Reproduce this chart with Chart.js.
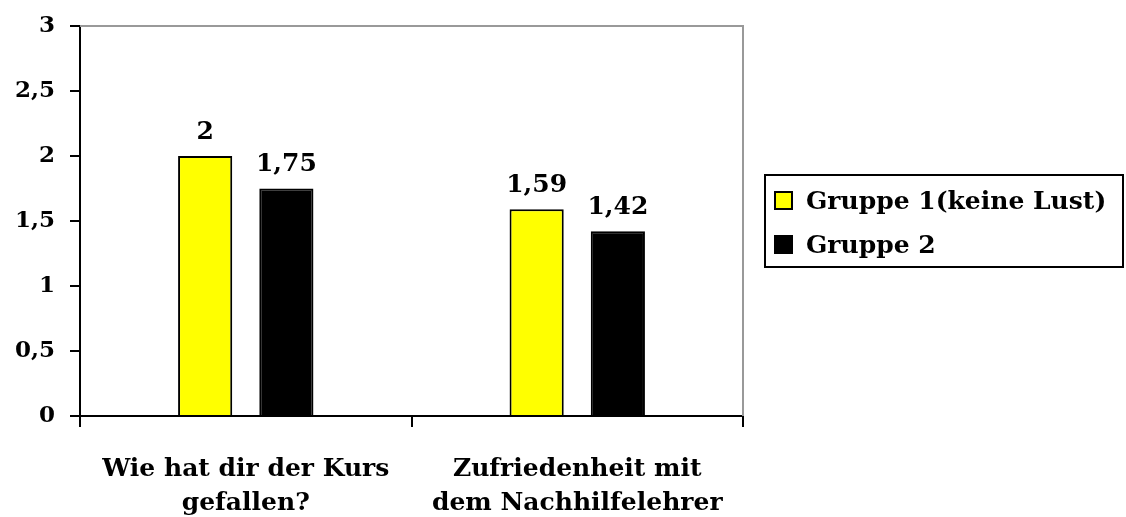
<!DOCTYPE html>
<html>
<head>
<meta charset="utf-8">
<script src="https://cdn.jsdelivr.net/npm/chart.js@4"></script>
<style>
  html, body { margin: 0; padding: 0; background: #fff; }
  #wrap { position: relative; width: 1126px; height: 517px; }
  #legend {
    position: absolute; left: 764px; top: 174px; width: 356px; height: 90px;
    border: 2px solid #000; font: bold 25px "DejaVu Serif", serif; color: #000;
    box-sizing: content-box; white-space: nowrap;
  }
  .item { display: flex; align-items: center; height: 44px; padding-left: 8px; }
  .item:first-child { margin-top: 2px; }
  .swatch { width: 15px; height: 15px; border: 2px solid #000; margin-right: 13px; flex: none; }
</style>
</head>
<body>
<div id="wrap">
  <canvas id="chart" width="1126" height="517"></canvas>
  <div id="legend"></div>
</div>
<script>
const categories = [
  ["Wie hat dir der Kurs", "gefallen?"],
  ["Zufriedenheit mit", "dem Nachhilfelehrer"]
];
const seriesNames = ["Gruppe 1(keine Lust)", "Gruppe 2"];
const gruppe1 = [2, 1.59];
const gruppe2 = [1.75, 1.42];
const colors = ["#ffff00", "#000000"];

const fmt = v => String(v).replace('.', ',');
const fontFam = '"DejaVu Serif", serif';

const valueLabels = {
  id: 'valueLabels',
  afterDatasetsDraw(chart) {
    const ctx = chart.ctx;
    ctx.save();
    ctx.font = 'bold 25px ' + fontFam;
    ctx.fillStyle = '#000';
    ctx.textAlign = 'center';
    ctx.textBaseline = 'bottom';
    chart.data.datasets.forEach((ds, i) => {
      chart.getDatasetMeta(i).data.forEach((bar, j) => {
        ctx.fillText(fmt(ds.data[j]), bar.x, bar.y - 11);
      });
    });
    ctx.restore();
  }
};

const plotFrame = {
  id: 'plotFrame',
  beforeDatasetsDraw(chart) {
    const a = chart.chartArea, ctx = chart.ctx;
    ctx.save();
    ctx.strokeStyle = '#999';
    ctx.lineWidth = 2;
    ctx.beginPath();
    ctx.moveTo(a.left, a.top);
    ctx.lineTo(a.right, a.top);
    ctx.lineTo(a.right, a.bottom);
    ctx.stroke();
    ctx.restore();
  }
};

new Chart(document.getElementById('chart'), {
  type: 'bar',
  data: {
    labels: categories,
    datasets: [
      { label: seriesNames[0], data: gruppe1, backgroundColor: colors[0], borderColor: '#000', borderWidth: 2,
        barPercentage: 0.667, categoryPercentage: 0.49 },
      { label: seriesNames[1], data: gruppe2, backgroundColor: colors[1], borderColor: '#000', borderWidth: 2,
        barPercentage: 0.667, categoryPercentage: 0.49 }
    ]
  },
  options: {
    responsive: false,
    animation: false,
    layout: { padding: { top: 4, right: 383, left: 0, bottom: 0 } },
    plugins: { legend: { display: false }, tooltip: { enabled: false } },
    scales: {
      x: {
        afterFit: scale => { scale.height = 101; },
        grid: { drawOnChartArea: false, color: '#000', lineWidth: 2, tickLength: 11, offset: true },
        border: { color: '#000', width: 2 },
        ticks: { color: '#000', font: { family: fontFam, size: 25, weight: 'bold', lineHeight: 1.38 }, padding: 25, maxRotation: 0 }
      },
      y: {
        min: 0, max: 3,
        grid: { drawOnChartArea: false, color: '#000', lineWidth: 2, tickLength: 10 },
        border: { color: '#000', width: 2 },
        ticks: { stepSize: 0.5, color: '#000', font: { family: fontFam, size: 23, weight: 'bold', lineHeight: 0.95 }, padding: 15,
          callback: v => fmt(v) }
      }
    }
  },
  plugins: [plotFrame, valueLabels]
});

const legend = document.getElementById('legend');
seriesNames.forEach((name, i) => {
  const row = document.createElement('div');
  row.className = 'item';
  const sw = document.createElement('span');
  sw.className = 'swatch';
  sw.style.background = colors[i];
  const t = document.createElement('span');
  t.textContent = name;
  row.appendChild(sw);
  row.appendChild(t);
  legend.appendChild(row);
});
</script>
</body>
</html>
